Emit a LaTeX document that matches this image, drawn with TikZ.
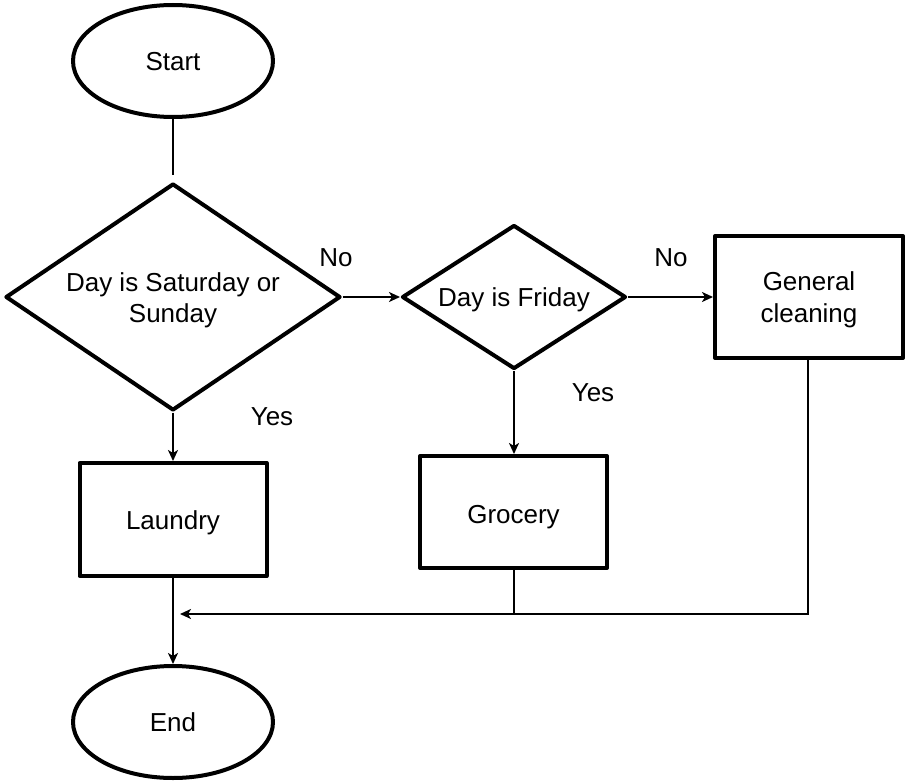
\documentclass[tikz,border=0pt]{standalone}
\usepackage{fontspec}
\setmainfont{Liberation Sans}
\usetikzlibrary{shapes.geometric,arrows.meta}
\begin{document}
\begin{tikzpicture}[x=1pt,y=-1pt,
  every node/.style={font=\fontsize{26}{31}\selectfont, inner sep=0pt},
  shp/.style={draw, line width=4pt, line join=round, text height=19pt, text depth=0pt},
  twoline/.style={text height=51pt, text depth=0pt},
  term/.style={shp, ellipse, minimum width=200pt, minimum height=112pt},
  dec/.style={shp, diamond, align=center},
  proc/.style={shp, rectangle, align=center},
  conn/.style={line width=2pt},
  arr/.style={conn, -{Stealth[length=11pt,width=10pt,inset=3pt]}},
  lbl/.style={}]
\useasboundingbox (0,0) rectangle (905,781);
\node[term] (start) at (173,61) {Start};
\node[dec, twoline, shape aspect=1.476, minimum width=335pt, minimum height=227pt] (d1) at (173,297) {Day is Saturday or\\Sunday};
\node[dec, shape aspect=1.556, minimum width=224pt, minimum height=144pt] (d2) at (514,297) {Day is Friday};
\node[proc, twoline, minimum width=188pt, minimum height=122pt] (gc) at (809,297) {General\\[1pt]cleaning};
\node[proc, minimum width=187pt, minimum height=113pt] (laundry) at (173,519.5) {Laundry};
\node[proc, text height=23pt, minimum width=187pt, minimum height=112pt] (grocery) at (513.5,512) {Grocery};
\node[term] (end) at (173,722) {End};
\coordinate (merge) at (180,614);
\coordinate (gcturn) at (808,614);
\coordinate (grjoin) at (514,614);

\draw[conn, shorten >=6pt] (start) -- (d1);
\draw[arr] (d1.east) -- (d2.west);
\draw[arr] (d2.east) -- (gc.west |- d2.east);
\draw[arr] (d1.south) -- (laundry.north -| d1.south);
\draw[arr] (d2.south) -- (grocery.north -| d2.south);
\draw[arr] (laundry.south -| end.north) -- (end.north);
\draw[arr] (gc.south -| gcturn) -- (gcturn) -- (merge);
\draw[conn] (grocery.south -| grjoin) -- (grjoin);

\node[lbl] (no1) at (336,258) {No};
\node[lbl] (no2) at (671,258) {No};
\node[lbl] (yes1) at (272,417) {Yes};
\node[lbl] (yes2) at (593,393) {Yes};
\end{tikzpicture}
\end{document}
